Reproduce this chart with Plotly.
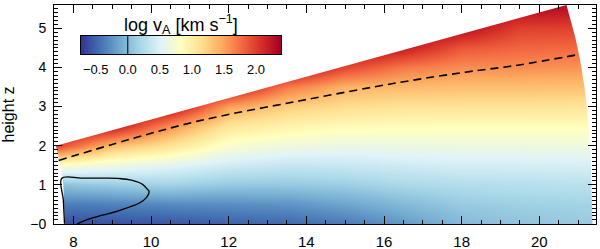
import numpy as np
import plotly.graph_objects as go

# --- log vA field at a coarse grid (columns = x, rows = height z) ---
x_cols = [7.5, 9.0, 10.5, 12.0, 13.5, 15.0, 16.5, 18.0, 19.5, 21.5]
z_rows = [0.0, 0.5, 1.0, 1.5, 2.0, 2.5, 3.0, 3.5, 4.0, 4.5, 5.0, 5.5]

col_x7_5 = [-0.62, -0.38, 0.02, 0.80, 2.00, 2.39, 2.39, 2.39, 2.39, 2.39, 2.39, 2.39]
col_x9_0 = [-0.60, -0.35, 0.10, 0.65, 1.35, 2.25, 2.39, 2.39, 2.39, 2.39, 2.39, 2.39]
col_x10_5 = [-0.58, -0.30, 0.15, 0.55, 1.10, 1.60, 2.30, 2.39, 2.39, 2.39, 2.39, 2.39]
col_x12_0 = [-0.52, -0.28, 0.08, 0.42, 0.75, 1.08, 1.50, 2.30, 2.39, 2.39, 2.39, 2.39]
col_x13_5 = [-0.48, -0.25, 0.08, 0.36, 0.66, 0.95, 1.25, 1.70, 2.39, 2.39, 2.39, 2.39]
col_x15_0 = [-0.40, -0.15, 0.12, 0.38, 0.62, 0.88, 1.15, 1.42, 1.95, 2.39, 2.39, 2.39]
col_x16_5 = [-0.22, -0.02, 0.20, 0.42, 0.63, 0.86, 1.10, 1.38, 1.70, 2.20, 2.39, 2.39]
col_x18_0 = [-0.02, 0.10, 0.25, 0.45, 0.65, 0.85, 1.10, 1.35, 1.60, 1.88, 2.30, 2.39]
col_x19_5 = [0.05, 0.14, 0.27, 0.45, 0.65, 0.85, 1.10, 1.35, 1.60, 1.80, 2.00, 2.30]
col_x21_5 = [0.10, 0.17, 0.30, 0.47, 0.66, 0.85, 1.08, 1.33, 1.57, 1.78, 1.98, 2.25]

# domain boundary of the simulation box (inner arc, top edge, outer arc)
inner_x = [7.78, 7.74, 7.66, 7.55]
inner_z = [0.0, 1.0, 1.5, 2.0]
outer_x = [20.70, 20.92, 21.05, 21.18, 21.27, 21.33, 21.37]
outer_z = [5.60, 4.80, 4.20, 3.40, 2.50, 1.50, 0.0]

# dashed curve
dash_x = [7.62, 9.48, 11.26, 13.84, 16.41, 18.09, 19.38, 21.05]
dash_z = [1.62, 2.17, 2.64, 3.15, 3.62, 3.88, 4.05, 4.34]

# solid contour
cont_x = [7.77, 7.74, 7.70, 8.20, 8.80, 9.18, 9.52, 9.78, 9.91, 9.95, 9.88, 9.71, 9.18, 8.75, 8.32, 8.10]
cont_z = [0.00, 0.60, 1.165, 1.17, 1.17, 1.16, 1.11, 1.01, 0.88, 0.82, 0.67, 0.54, 0.34, 0.22, 0.095, 0.00]
cont_level = 0.0

cb_ticks = [-0.5, 0.0, 0.5, 1.0, 1.5, 2.0]
cb_labels = ["\u22120.5", "0.0", "0.5", "1.0", "1.5", "2.0"]
vmin, vmax = -0.73, 2.39

Z = np.array([col_x7_5, col_x9_0, col_x10_5, col_x12_0, col_x13_5,
              col_x15_0, col_x16_5, col_x18_0, col_x19_5, col_x21_5]).T

XR = [7.5, 21.46]
YR = [-0.005, 5.6]
W, H = 600, 249
ML, MR, MT, MB = 54, 4, 5, 25
FONT = "Liberation Sans, Arial, sans-serif"
pw = W - ML - MR
ph = H - MT - MB

# colour bar box inside the plot, in pixels of the figure
cb_left, cb_right, cb_top, cb_bot = 81, 281, 36, 54

fig = go.Figure()

fig.add_trace(go.Heatmap(
    x=x_cols, y=z_rows, z=Z,
    zmin=vmin, zmax=vmax, zsmooth="best",
    colorscale="RdYlBu_r", showscale=False,
    hoverinfo="skip",
))

# white mask outside the wedge-shaped domain
lo, hi = YR[0] - 0.2, YR[1] + 0.2
mask_x = [XR[0] - 0.2, inner_x[0]] + inner_x + outer_x + [outer_x[-1], XR[1] + 0.2, XR[1] + 0.2, XR[0] - 0.2]
mask_z = [lo, lo] + inner_z + outer_z + [lo, lo, hi, hi]
fig.add_trace(go.Scatter(x=mask_x, y=mask_z, mode="lines", fill="toself",
                         fillcolor="white", line=dict(width=0, color="white"),
                         hoverinfo="skip", showlegend=False))

fig.add_trace(go.Scatter(x=dash_x, y=dash_z, mode="lines", line_shape="spline",
                         line=dict(color="black", width=1.6, dash="8px,5px"),
                         hoverinfo="skip", showlegend=False))
fig.add_trace(go.Scatter(x=cont_x, y=cont_z, mode="lines", line_shape="spline",
                         line=dict(color="black", width=1.3),
                         hoverinfo="skip", showlegend=False))

# colour bar drawn on its own small axes
ramp = np.linspace(vmin, vmax, 200)
fig.add_trace(go.Heatmap(x=ramp, y=[0], z=[ramp], zmin=vmin, zmax=vmax,
                         colorscale="RdYlBu_r", showscale=False, hoverinfo="skip",
                         xaxis="x2", yaxis="y2"))
fig.add_trace(go.Scatter(x=[cont_level, cont_level], y=[-0.5, 0.5], mode="lines",
                         line=dict(color="black", width=1), hoverinfo="skip",
                         showlegend=False, xaxis="x2", yaxis="y2"))

axis_common = dict(showline=True, linecolor="black", linewidth=1, mirror="allticks",
                   ticks="inside", tickcolor="black", showgrid=False, zeroline=False,
                   automargin=False)
fig.update_layout(
    xaxis=dict(range=XR, tickvals=[8, 10, 12, 14, 16, 18, 20], ticklen=8,
               minor=dict(dtick=0.5, ticklen=4, ticks="inside", tickcolor="black"),
               ticklabelstandoff=4, tickfont=dict(size=15, color="black", family=FONT),
               **axis_common),
    yaxis=dict(range=YR, tickvals=[0, 1, 2, 3, 4, 5],
               ticktext=["\u22120", "1", "2", "3", "4", "5"], ticklen=8,
               minor=dict(dtick=0.1, ticklen=4, ticks="inside", tickcolor="black"),
               ticklabelstandoff=4, tickfont=dict(size=14, color="black", family=FONT),
               title=dict(text="height z", standoff=13, font=dict(size=16, color="black", family=FONT)),
               **axis_common),
    xaxis2=dict(domain=[(cb_left - ML) / pw, (cb_right - ML) / pw], anchor="y2",
                range=[vmin, vmax], tickvals=cb_ticks, ticktext=cb_labels, ticks="",
                showline=True, mirror=True, linecolor="black", linewidth=1,
                showgrid=False, zeroline=False, ticklabelstandoff=3, automargin=False,
                tickfont=dict(size=13, color="black", family=FONT)),
    yaxis2=dict(domain=[(H - MB - cb_bot) / ph, (H - MB - cb_top) / ph], anchor="x2",
                range=[-0.5, 0.5], showticklabels=False, ticks="", automargin=False,
                showline=True, mirror=True, linecolor="black", linewidth=1,
                showgrid=False, zeroline=False),
    width=W, height=H, margin=dict(l=ML, r=MR, t=MT, b=MB),
    paper_bgcolor="white", plot_bgcolor="white",
    font=dict(family=FONT, color="black"), showlegend=False,
)

fig.add_annotation(text="log v<sub>A</sub> [km s<sup>\u22121</sup>]",
                   xref="x2 domain", yref="y2 domain", x=0.5, y=1.0,
                   xanchor="center", yanchor="bottom", yshift=-3, showarrow=False,
                   font=dict(size=18, color="black", family=FONT))

fig.write_html("out.html", config={"displayModeBar": False},
               post_script="document.body.style.margin='0px';")
